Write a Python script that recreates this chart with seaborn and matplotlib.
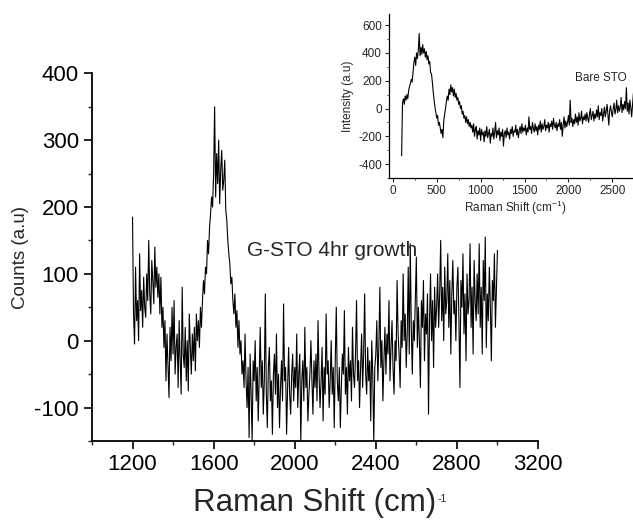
import numpy as np
import pandas as pd
import matplotlib
matplotlib.use("Agg")
import matplotlib.pyplot as plt
from matplotlib.ticker import MultipleLocator
import seaborn as sns

# G-STO 4hr growth spectrum, every 5 cm-1 from 1200
gsto_start, gsto_step = 1200, 5
gsto_counts = [
    185, 40, -5, 110, 30, 60, 0, 130, 45, 75, 20, 95, 50, 35, 100, 60, 150, 70, 40, 120,
    90, 55, 140, 80, 110, 65, 100, 40, 95, 20, 50, -10, 30, -60, 10, -40, -85, 20, -30, 50,
    -20, 60, -50, -10, 10, -70, 30, -30, -80, 80, -20, -40, 20, -60, 0, -75, 40, -10, -50, 10,
    -30, 20, -45, 40, 0, 30, -10, 50, 20, 60, 90, 70, 110, 100, 150, 130, 170, 190, 215, 200,
    250, 350, 215, 280, 235, 300, 205, 255, 285, 225, 240, 270, 195, 180, 150, 130, 115, 85, 95, 60,
    40, 70, 20, 45, -10, 30, -20, 0, -50, -30, -70, 10, -60, -100, -40, -145, -20, -80, -150, -30,
    -60, 0, -90, -40, -120, -50, 20, -70, -30, -110, -60, 70, -80, -130, -40, -10, -90, -60, -140, -50,
    -20, -80, 10, -100, -50, -130, -70, -30, -90, 55, -60, -40, -140, -70, -10, -80, -110, -50, -20, -90,
    -40, -70, 10, -100, -50, -20, -150, -60, -30, -90, 20, -70, -40, -120, -80, -50, 0, -60, -110, -30,
    -70, -20, -90, 30, -50, -100, -60, -10, -120, -40, -80, 40, -50, -30, -100, -60, 0, -80, -40, -130,
    -30, 50, -60, -90, -40, -130, -70, -20, -50, 45, -80, -40, -110, -10, -60, -30, -90, 20, -50, -70,
    -20, 60, -60, -30, -100, -40, 10, -70, -20, 70, -50, -80, -10, -60, -30, -120, 0, -50, -150, -40,
    -20, 30, -60, -10, 80, -40, 0, -90, -30, 20, -50, 10, -20, 60, -60, -10, 30, -40, -80, 0,
    -30, 90, 10, -20, -70, 30, -10, 100, 0, 40, -40, 10, 110, -20, 145, 20, -50, 30, 0, 60,
    125, -10, 50, 0, -70, 60, 20, 90, -30, 40, 10, 70, -110, 30, 100, 0, 60, -40, 80, 20,
    50, 100, 20, 70, 150, 30, 80, 0, 110, 40, 60, 130, 20, 90, -20, 70, 120, 40, 60, 0,
    80, 110, 30, -70, 90, 50, 130, 10, 70, -30, 100, 40, 60, 145, 20, 80, -20, 120, 60, 30,
    100, 40, 145, 20, 80, -20, 120, 60, 155, -10, 70, 30, 110, 50, -30, 90, 60, 130, 20, 80,
    135,
]

# Bare STO spectrum (inset), every 10 cm-1 from 100
sto_start, sto_step = 100, 10
sto_intensity = [
    -340, 40, 70, 30, 90, 60, 100, 70, 130, 160,
    180, 210, 190, 260, 330, 370, 310, 400, 360, 420,
    540, 380, 440, 390, 460, 400, 430, 370, 410, 350,
    380, 320, 340, 260, 250, 190, 120, 60, 10, -30,
    -70, -50, -120, -100, -140, -180, -150, -210, -90, -40,
    0, 50, 90, 60, 140, 100, 170, 120, 150, 90,
    140, 80, 110, 60, 80, 30, 50, 0, 20, -40,
    -20, -70, -50, -100, -60, -110, -80, -130, -100, -140,
    -120, -170, -110, -200, -150, -130, -220, -160, -190, -140,
    -230, -150, -190, -170, -240, -160, -200, -130, -210, -180,
    -150, -250, -180, -200, -140, -220, -170, -100, -210, -160,
    -190, -140, -230, -170, -200, -150, -270, -180, -160, -210,
    -140, -190, -170, -220, -150, -180, -130, -200, -160, -170,
    -120, -190, -150, -210, -160, -130, -180, -110, -170, -140,
    -160, -120, -190, -140, -170, -60, -150, -130, -180, -100,
    -140, -170, -110, -160, -130, -190, -120, -150, -90, -170,
    -110, -150, -130, -80, -160, -120, -140, -100, -170, -110,
    -130, -90, -150, -70, -120, -140, -100, -160, -110, -130,
    -80, -150, -100, -200, -120, -60, -140, -90, -130, -100,
    -50, -120, 60, -100, -70, -130, -80, -110, -40, -100,
    -60, -120, -30, -90, -70, -20, -110, -60, -80, -40,
    -90, -30, -70, -100, -40, 0, -80, -50, -20, -90,
    -40, -70, -10, -60, 20, -80, -30, -50, 0, -90,
    -40, 10, -60, -20, 30, -50, -120, -10, 20, -30,
    -60, 0, 40, -40, -10, 60, -30, 20, -20, 10,
    80, -30, 30, -10, 50, 0, 150, -20, 40, -40,
    60, 10, -60, 30, 110, 0, 50, -20, 70, 20,
    40, -10, 80, 20, 70,
]

gsto = pd.DataFrame({
    "shift": gsto_start + gsto_step * np.arange(len(gsto_counts)),
    "counts": gsto_counts,
})
sto = pd.DataFrame({
    "shift": sto_start + sto_step * np.arange(len(sto_intensity)),
    "intensity": sto_intensity,
})

sns.set_style("ticks")
plt.rcParams["font.family"] = ["Liberation Sans", "DejaVu Sans"]
plt.rcParams["mathtext.default"] = "regular"
plt.rcParams["axes.unicode_minus"] = False

fig = plt.figure(figsize=(6.33, 5.21), dpi=100)

#%% main axes
ax = fig.add_axes([0.1453, 0.1536, 0.7046, 0.7057])
sns.lineplot(data=gsto, x="shift", y="counts", ax=ax, color="black",
             lw=0.8, estimator=None, sort=False)
ax.set_xlim(1000, 3200)
ax.set_ylim(-150, 400)
ax.set_xticks([1200, 1600, 2000, 2400, 2800, 3200])
ax.set_xticks([1000, 1400, 1800, 2200, 2600, 3000], minor=True)
ax.yaxis.set_major_locator(MultipleLocator(100))
ax.yaxis.set_minor_locator(MultipleLocator(50))
ax.tick_params(which="major", direction="out", length=6, width=1.2,
               labelsize=16, colors="black")
ax.tick_params(which="minor", direction="out", length=3, width=1.0)
for s in ["left", "bottom"]:
    ax.spines[s].set_linewidth(1.3)
    ax.spines[s].set_color("black")
sns.despine(ax=ax)
ax.set_xlabel("Raman Shift (cm)", fontsize=22.5, labelpad=9)
ax.set_ylabel("Counts (a.u)", fontsize=13.5, labelpad=4)
ax.text(1765, 135, "G-STO 4hr growth", fontsize=15, va="center")

#%% inset
ins = fig.add_axes([0.6145, 0.6584, 0.40, 0.3146])
sns.lineplot(data=sto, x="shift", y="intensity", ax=ins, color="black",
             lw=0.8, estimator=None, sort=False)
ins.set_xlim(-44, 2840)
ins.set_ylim(-500, 680)
ins.xaxis.set_major_locator(MultipleLocator(500))
ins.xaxis.set_minor_locator(MultipleLocator(250))
ins.yaxis.set_major_locator(MultipleLocator(200))
ins.yaxis.set_minor_locator(MultipleLocator(100))
ins.tick_params(which="major", direction="out", length=3, width=0.8,
                labelsize=8.5, pad=2)
ins.tick_params(which="minor", direction="out", length=1.5, width=0.6)
for s in ["left", "bottom"]:
    ins.spines[s].set_linewidth(0.9)
    ins.spines[s].set_color("black")
sns.despine(ax=ins)
ins.set_xlabel("Raman Shift (cm$^{-1}$)", fontsize=8.5, labelpad=1)
ins.set_ylabel("Intensity (a.u)", fontsize=8.5, labelpad=3)
ins.text(2080, 220, "Bare STO", fontsize=8.5, va="center")

# tiny superscript after the main x label, as in the original
fig.canvas.draw()
bb = ax.xaxis.label.get_window_extent()
W, H = fig.bbox.width, fig.bbox.height
fig.text((bb.x1 + 1) / W, (bb.y1 - 6) / H, "-1", fontsize=7.5, va="top")

plt.savefig("out.png", dpi=100)
